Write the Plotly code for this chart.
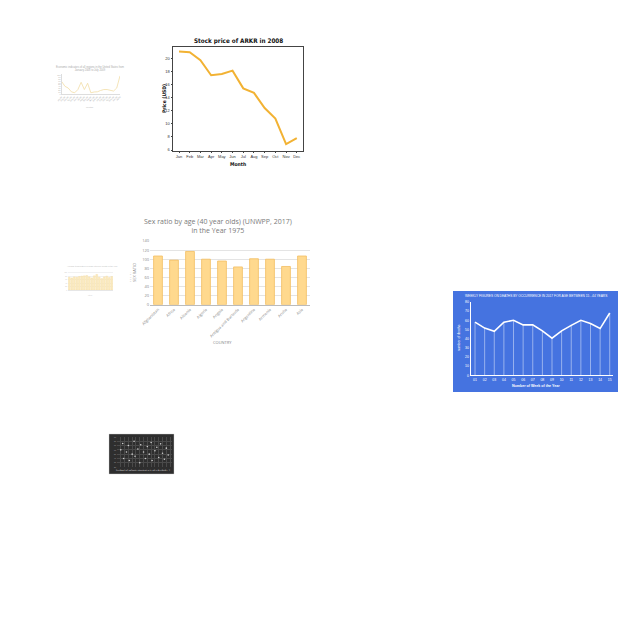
import plotly.graph_objects as go

W = H = 640

def dx(a, b):
    return [a / W, b / W]

def dy(top, bottom):
    return [1 - bottom / H, 1 - top / H]

# ---------- data ----------
stock_months = ["Jan", "Feb", "Mar", "Apr", "May", "Jun", "Jul", "Aug", "Sep", "Oct", "Nov", "Dec"]
stock_price = [21.0, 20.9, 19.7, 17.4, 17.6, 18.1, 15.4, 14.7, 12.4, 10.8, 6.9, 7.8]

sex_countries = ["Afghanistan", "Africa", "Albania", "Algeria", "Angola",
                 "Antigua and Barbuda", "Argentina", "Armenia", "Aruba", "Asia"]
sex_ratio = [107, 98, 117, 100, 96, 83, 101, 100, 84, 107]

week_labels = ["01", "02", "03", "04", "05", "06", "07", "08", "09", "10", "11", "12", "13", "14", "15"]
week_deaths = [58, 51.5, 48, 58, 60, 55, 55, 48.5, 40.5, 48.5, 54.5, 60, 56.5, 51, 68]

tiny_line_labels = ["Jan 08", "Feb 08", "Mar 08", "Apr 08", "May 08", "Jun 08", "Jul 08", "Aug 08",
                    "Sep 08", "Oct 08", "Nov 08", "Dec 08", "Jan 09", "Feb 09", "Mar 09", "Apr 09",
                    "May 09", "Jun 09", "Jul 09"]
tiny_line_values = [67, 42, 33, 13, 8, 25, 63, 25, 58, 8, 12, 13, 20, 25, 25, 20, 17, 33, 97]

tiny_bar_labels = ["A", "B", "C", "D", "E", "F", "G", "H", "I", "J", "K", "L", "M", "N", "O", "P", "Q", "R"]
tiny_bar_values = [74, 70, 76, 74, 78, 80, 82, 84, 76, 70, 82, 90, 74, 66, 76, 80, 72, 78]

dark_x = [2, 3, 3.5, 5, 6, 6.5, 8, 9, 9.5, 11, 12, 12.5, 14, 15, 16, 17, 18, 18.5, 20, 21, 22, 23, 24, 25, 26, 27]
dark_y = [60, 75, 40, 55, 70, 35, 50, 80, 45, 62, 30, 72, 55, 40, 68, 50, 77, 35, 58, 66, 42, 74, 52, 38, 64, 48]

fig = go.Figure()

fig.add_trace(go.Scatter(x=stock_months, y=stock_price, mode="lines",
                         line=dict(color="#F2B233", width=2), xaxis="x", yaxis="y",
                         showlegend=False, hoverinfo="skip"))

fig.add_trace(go.Bar(x=sex_countries, y=sex_ratio, marker=dict(color="#FFD98E",
                     line=dict(color="#F3BE62", width=0.8)), width=0.55,
                     xaxis="x2", yaxis="y2", showlegend=False, hoverinfo="skip"))

fig.add_trace(go.Scatter(x=week_labels, y=week_deaths, mode="lines",
                         line=dict(color="white", width=1.6),
                         error_y=dict(type="data", symmetric=False, array=[0] * len(week_deaths),
                                      arrayminus=week_deaths, color="rgba(255,255,255,0.75)",
                                      thickness=0.6, width=0),
                         xaxis="x3", yaxis="y3", showlegend=False, hoverinfo="skip"))

fig.add_trace(go.Scatter(x=tiny_line_labels, y=tiny_line_values, mode="lines",
                         line=dict(color="#F1DDA6", width=0.8), xaxis="x4", yaxis="y4",
                         showlegend=False, hoverinfo="skip"))

fig.add_trace(go.Bar(x=tiny_bar_labels, y=tiny_bar_values, marker=dict(color="#FBEBC2",
                     line=dict(color="#F5DCA0", width=0.4)), width=0.7,
                     xaxis="x5", yaxis="y5", showlegend=False, hoverinfo="skip"))

fig.add_trace(go.Scatter(x=dark_x, y=dark_y, mode="markers",
                         marker=dict(color="#cfcfcf", size=1.6), xaxis="x6", yaxis="y6",
                         showlegend=False, hoverinfo="skip"))

fig.update_layout(
    template="none",
    width=W, height=H, margin=dict(l=0, r=0, t=0, b=0, pad=0), autosize=False,
    paper_bgcolor="white", plot_bgcolor="rgba(0,0,0,0)",
    font=dict(family="Liberation Sans, Arial, sans-serif"),
    xaxis=dict(domain=dx(173, 303), anchor="y", type="category", range=[-0.56, 11.58], showgrid=False,
               showline=True, mirror=True, linecolor="#444", linewidth=0.8,
               ticks="outside", ticklen=1.5, tickcolor="#444", tickangle=0,
               tickfont=dict(size=4, color="#333"), fixedrange=True, automargin=False),
    yaxis=dict(domain=dy(47, 151), anchor="x", range=[5.85, 21.7], tickvals=[6, 8, 10, 12, 14, 16, 18, 20],
               showgrid=False, zeroline=False, showline=True, mirror=True, linecolor="#444", linewidth=0.8,
               ticks="outside", ticklen=1.5, tickcolor="#444",
               tickfont=dict(size=4, color="#333"), fixedrange=True, automargin=False),
    xaxis2=dict(domain=dx(150, 310), anchor="y2", type="category", showgrid=False, showline=True,
                linecolor="#bbb", linewidth=0.8, tickangle=-45, ticks="",
                tickfont=dict(size=4, color="#888", family="Open Sans, sans-serif"),
                fixedrange=True, automargin=False),
    yaxis2=dict(domain=dy(241, 304.7), anchor="x2", range=[0, 140], dtick=20, ticks="",
                showgrid=True, gridcolor="#e4e4e4", gridwidth=0.6, zeroline=False, showline=False,
                tickfont=dict(size=4, color="#888", family="Open Sans, sans-serif"),
                fixedrange=True, automargin=False),
    xaxis3=dict(domain=dx(470.7, 613), anchor="y3", type="category", range=[-0.45, 14.34], showgrid=False,
                showline=True, linecolor="white", linewidth=1, ticks="", tickangle=0,
                tickfont=dict(size=3.5, color="white"), fixedrange=True, automargin=False),
    yaxis3=dict(domain=dy(302, 375.3), anchor="x3", range=[0, 80], dtick=10, showgrid=False,
                zeroline=False, showline=True, linecolor="white", linewidth=1, ticks="",
                tickfont=dict(size=3.5, color="white"), fixedrange=True, automargin=False),
    xaxis4=dict(domain=dx(61.7, 120), anchor="y4", type="category", showgrid=False, showline=True,
                linecolor="#ddd", linewidth=0.5, tickangle=-45, ticks="",
                tickfont=dict(size=2, color="#aaa"), fixedrange=True, automargin=False),
    yaxis4=dict(domain=dy(74.3, 94.3), anchor="x4", range=[0, 105], dtick=10, showgrid=False,
                zeroline=False, showline=True, linecolor="#ddd", linewidth=0.5, ticks="",
                tickfont=dict(size=2, color="#aaa"), fixedrange=True, automargin=False),
    xaxis5=dict(domain=dx(68, 113), anchor="y5", type="category", showgrid=False, showline=True,
                linecolor="#e6e6e6", linewidth=0.5, showticklabels=False, ticks="",
                fixedrange=True, automargin=False),
    yaxis5=dict(domain=dy(271, 290), anchor="x5", range=[0, 110], dtick=20, showgrid=True,
                gridcolor="#f1f1f1", gridwidth=0.4, zeroline=False, ticks="",
                tickfont=dict(size=1.5, color="#bbb"), fixedrange=True, automargin=False),
    xaxis6=dict(domain=dx(117, 172), anchor="y6", range=[0, 29], showgrid=True,
                gridcolor="#4a4a4a", gridwidth=0.4, zeroline=False, showticklabels=True, ticks="",
                tickfont=dict(size=1.8, color="#aaa"), dtick=2, fixedrange=True, automargin=False),
    yaxis6=dict(domain=dy(437, 467), anchor="x6", range=[20, 90], dtick=10, showgrid=True,
                gridcolor="#4a4a4a", gridwidth=0.4, zeroline=False, ticks="",
                tickfont=dict(size=1.8, color="#aaa"), fixedrange=True, automargin=False),
)

shapes = [
    dict(type="rect", xref="paper", yref="paper", x0=453 / W, x1=618 / W, y0=1 - 392 / H, y1=1 - 291 / H,
         fillcolor="#4573E0", line=dict(width=0), layer="below"),
    dict(type="rect", xref="paper", yref="paper", x0=109 / W, x1=174 / W, y0=1 - 474 / H, y1=1 - 434 / H,
         fillcolor="#2e2e2e", line=dict(color="#d0d0d0", width=0.4), layer="below"),
]
fig.update_layout(shapes=shapes)

def ann(x, y, text, size, color="#333", angle=0, family=None, **kw):
    d = dict(x=x / W, y=1 - y / H, xref="paper", yref="paper", text=text, showarrow=False,
             font=dict(size=size, color=color, family=family or "Liberation Sans, Arial, sans-serif"),
             textangle=angle, xanchor="center", yanchor="middle", borderpad=0)
    d.update(kw)
    fig.add_annotation(**d)

condensed = "Liberation Sans Narrow, DejaVu Sans Condensed, sans-serif"
ann(238, 41, "<b>Stock price of ARKR in 2008</b>", 6.3, "#111", family=condensed)
ann(164, 99, "<b>Price (USD)</b>", 5, "#111", angle=-90, family=condensed)
ann(238, 163.5, "<b>Month</b>", 5, "#111", family=condensed)

ann(218, 226, "Sex ratio by age (40 year olds) (UNWPP, 2017)<br>in the Year 1975", 7.0, "#7a7a7a",
    family="Open Sans, sans-serif")
ann(134, 273, "SEX RATIO", 4, "#888", angle=-90, family="Open Sans, sans-serif")
ann(222, 342, "COUNTRY", 4, "#888", family="Open Sans, sans-serif")

ann(536, 296, "WEEKLY FIGURES ON DEATHS BY OCCURRENCE IN 2017 FOR AGE BETWEEN 15 - 44 YEARS", 3.2, "white")
ann(536, 386, "<b>Number of Week of the Year</b>", 3.6, "white")
ann(459, 338, "number of deaths", 3.4, "white", angle=-90)

ann(90, 69, "Economic indicators of all regions in the United States from<br>January 2008 to July 2009",
    2.6, "#aaa")
ann(90, 107, "months", 2.2, "#bbb")

ann(92, 266, "Average temperature of major cities by month in the year", 2.0, "#bbb")
ann(90, 295, "cities", 1.8, "#ccc")
ann(131, 276, "A<br>B<br>C<br>D<br>E", 1.8, "#ccc")

ann(142, 470, "NUMBER OF OBSERVATIONS BY DAY OF THE MONTH", 2.0, "#ccc")

fig.write_html("out.html")
